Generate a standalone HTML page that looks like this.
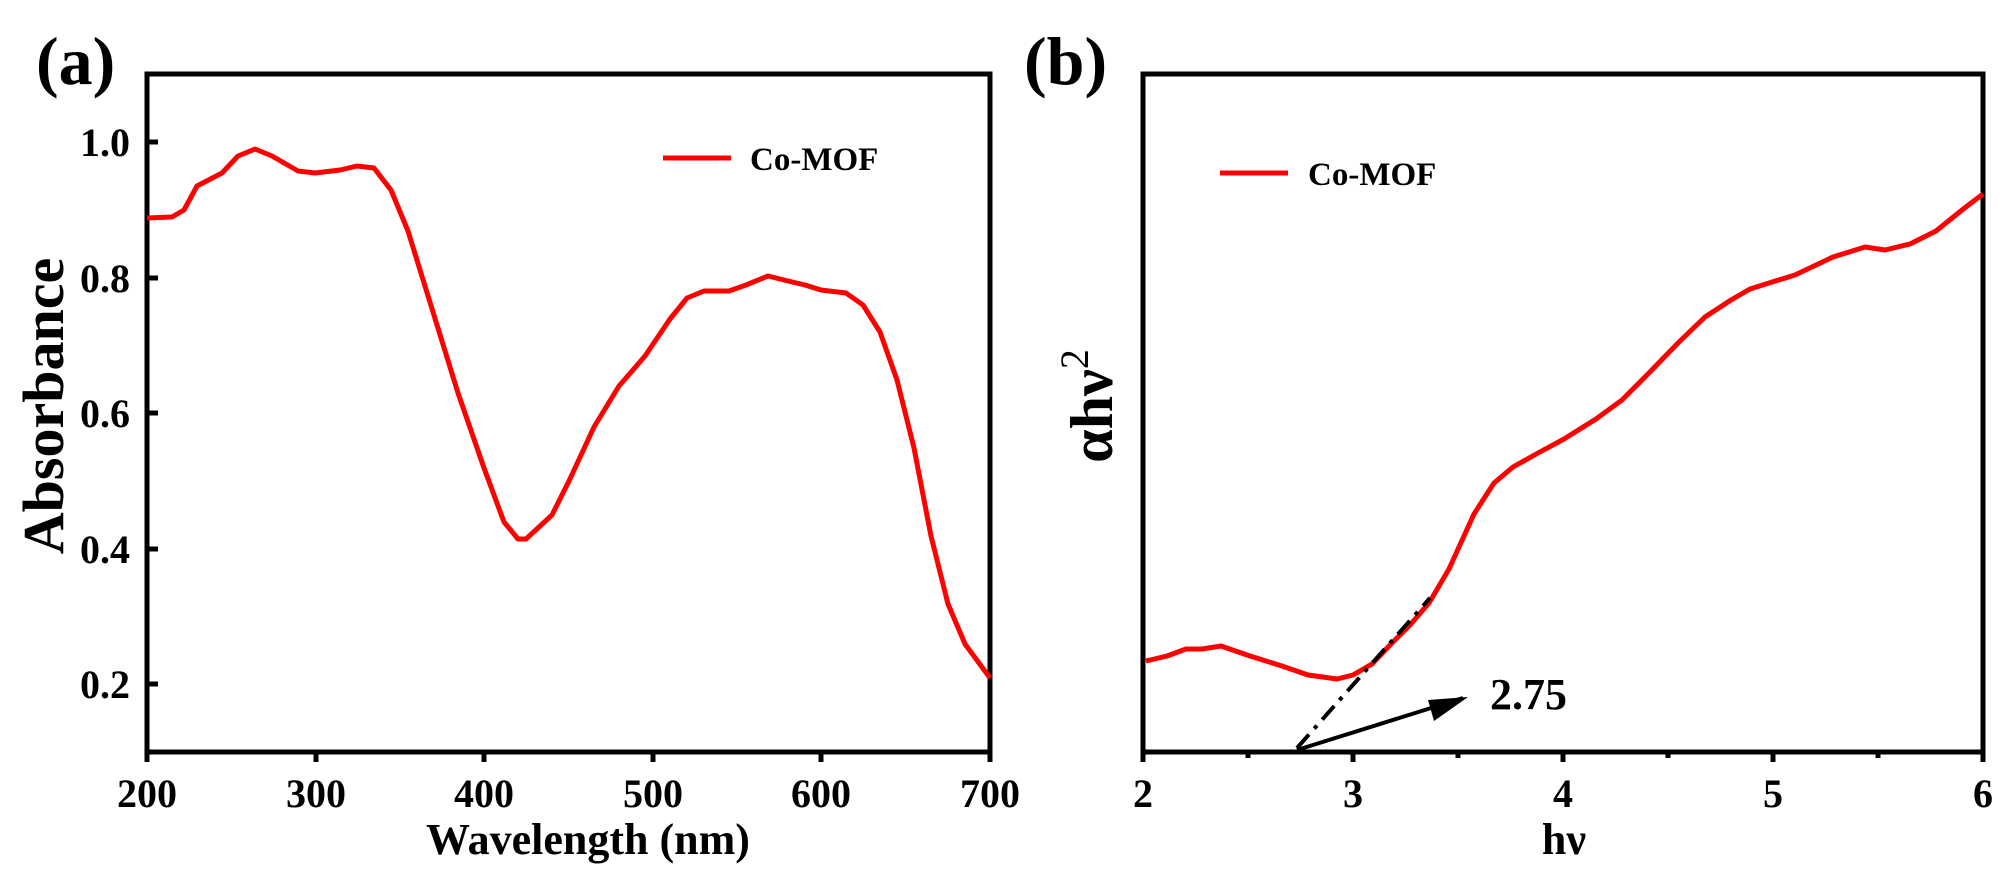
<!DOCTYPE html>
<html><head><meta charset="utf-8"><style>
html,body{margin:0;padding:0;background:#fff}
svg{display:block}
text{font-family:"Liberation Serif",serif;font-weight:bold;fill:#000}
</style></head><body>
<svg width="2000" height="869" viewBox="0 0 2000 869" xmlns="http://www.w3.org/2000/svg">
<!-- Panel a -->
<text x="36" y="84" font-size="68">(a)</text>
<rect x="147" y="74" width="843" height="678" fill="none" stroke="#000" stroke-width="5"/>
<g stroke="#000" stroke-width="5">
<line x1="147" y1="142" x2="158" y2="142"/>
<line x1="147" y1="278" x2="158" y2="278"/>
<line x1="147" y1="413" x2="158" y2="413"/>
<line x1="147" y1="549" x2="158" y2="549"/>
<line x1="147" y1="684" x2="158" y2="684"/>
<line x1="147" y1="752" x2="147" y2="762"/>
<line x1="316" y1="752" x2="316" y2="762"/>
<line x1="484" y1="752" x2="484" y2="762"/>
<line x1="653" y1="752" x2="653" y2="762"/>
<line x1="821" y1="752" x2="821" y2="762"/>
<line x1="990" y1="752" x2="990" y2="762"/>
</g>
<g font-size="40" text-anchor="end">
<text x="130" y="156">1.0</text>
<text x="130" y="292">0.8</text>
<text x="130" y="427">0.6</text>
<text x="130" y="563">0.4</text>
<text x="130" y="698">0.2</text>
</g>
<g font-size="40" text-anchor="middle">
<text x="147" y="807">200</text>
<text x="316" y="807">300</text>
<text x="484" y="807">400</text>
<text x="653" y="807">500</text>
<text x="821" y="807">600</text>
<text x="990" y="807">700</text>
</g>
<text x="588" y="854" font-size="44" text-anchor="middle">Wavelength (nm)</text>
<text transform="translate(63,406) rotate(-90)" font-size="58" text-anchor="middle">Absorbance</text>
<line x1="663" y1="158" x2="731" y2="158" stroke="#f00" stroke-width="5"/>
<text x="750" y="170" font-size="33">Co-MOF</text>
<polyline fill="none" stroke="#f00" stroke-width="5" stroke-linejoin="round" points="
147,218 172,217 184,210 197,186 222,173 238,156 255,149 272,156 298,171 315,173 340,170 357,166 374,168 391,190 408,231 433,312 458,393 484,468 504,522 518,539 526,539 552,515 569,481 594,427 619,386 645,356 670,319 687,298 704,291 729,291 746,285 768,276 788,281 805,285 821,290 846,293 863,305 880,332 897,380 914,448 931,536 948,604 965,644 990,678"/>
<!-- Panel b -->
<text x="1024" y="84" font-size="68">(b)</text>
<rect x="1143" y="74" width="840" height="678" fill="none" stroke="#000" stroke-width="5"/>
<g stroke="#000" stroke-width="5">
<line x1="1143" y1="752" x2="1143" y2="762"/>
<line x1="1353" y1="752" x2="1353" y2="762"/>
<line x1="1563" y1="752" x2="1563" y2="762"/>
<line x1="1773" y1="752" x2="1773" y2="762"/>
<line x1="1983" y1="752" x2="1983" y2="762"/>
<line x1="1248" y1="752" x2="1248" y2="758"/>
<line x1="1458" y1="752" x2="1458" y2="758"/>
<line x1="1668" y1="752" x2="1668" y2="758"/>
<line x1="1878" y1="752" x2="1878" y2="758"/>
</g>
<g font-size="40" text-anchor="middle">
<text x="1143" y="807">2</text>
<text x="1353" y="807">3</text>
<text x="1563" y="807">4</text>
<text x="1773" y="807">5</text>
<text x="1983" y="807">6</text>
</g>
<text x="1564" y="854" font-size="44" text-anchor="middle">hν</text>
<text transform="translate(1112,406) rotate(-90)" font-size="60" text-anchor="middle">αhν<tspan font-weight="normal" font-size="40" dy="-24">2</tspan></text>
<line x1="1220" y1="173" x2="1288" y2="173" stroke="#f00" stroke-width="5"/>
<text x="1308" y="185" font-size="33">Co-MOF</text>
<polyline fill="none" stroke="#f00" stroke-width="5" stroke-linejoin="round" points="
1146,661 1167,656 1186,649 1202,649 1221,646 1250,656 1282,666 1308,675 1337,679 1353,675 1372,664 1391,644 1410,625 1429,603 1449,569 1474,514 1494,483 1513,467 1538,453 1564,439 1596,419 1622,400 1647,375 1679,342 1705,317 1731,300 1750,289 1769,283 1795,275 1833,257 1865,247 1885,250 1910,244 1936,231 1962,210 1983,194"/>
<line x1="1297" y1="748" x2="1430" y2="598" stroke="#000" stroke-width="4" stroke-dasharray="18,8,4,8"/>
<line x1="1297" y1="750" x2="1463" y2="698" stroke="#000" stroke-width="4"/>
<path d="M1468,697 L1434,721 L1428,700 Z" fill="#000"/>
<text x="1490" y="709" font-size="44">2.75</text>
</svg>
</body></html>
